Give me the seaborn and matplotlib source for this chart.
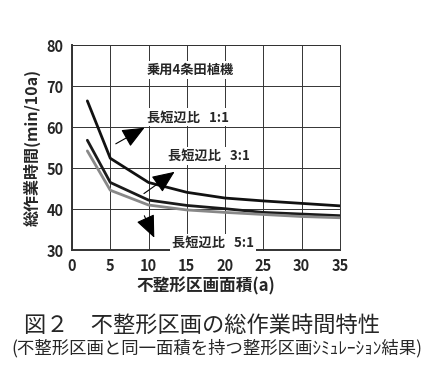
import matplotlib
matplotlib.use("Agg")
import matplotlib.pyplot as plt
import seaborn as sns
import pandas as pd

# 不整形区画面積 (a)
area = [2, 5, 10, 15, 20, 25, 30, 35]
# 総作業時間 (min/10a)
ratio_1_1 = [66.4, 52.4, 46.5, 44.1, 42.7, 42.0, 41.4, 40.8]
ratio_3_1 = [56.8, 46.5, 42.2, 40.9, 40.1, 39.2, 38.8, 38.4]
ratio_5_1 = [54.2, 44.6, 41.0, 39.8, 39.2, 38.7, 38.2, 37.9]

series_names = ["1:1", "3:1", "5:1"]
series_colors = ["#111111", "#1a1a1a", "#888888"]

sns.set_style("white")
plt.rcParams["font.family"] = ["Noto Sans CJK JP", "DejaVu Sans"]

df = pd.DataFrame({
    "area": area * 3,
    "time": ratio_1_1 + ratio_3_1 + ratio_5_1,
    "ratio": [n for n in series_names for _ in area],
})

fig = plt.figure(figsize=(4.34, 3.70), dpi=100)
ax = fig.add_axes([0.166, 0.324, 0.617, 0.554])

sns.lineplot(data=df, x="area", y="time", hue="ratio", palette=series_colors,
             linewidth=2.0, legend=False, ax=ax)

ax.set_xlim(0, 35)
ax.set_ylim(30, 80)
ax.set_xticks(range(0, 36, 5))
ax.set_yticks(range(30, 81, 10))
ax.grid(True, color="#333333", linewidth=0.7)
for s in ax.spines.values():
    s.set_color("#333333")
    s.set_linewidth(0.7)
ax.spines["bottom"].set_linewidth(1.4)
ax.spines["left"].set_linewidth(1.4)
ax.tick_params(length=0, labelsize=10.5, pad=6)
for lab in ax.get_xticklabels() + ax.get_yticklabels():
    lab.set_fontweight("bold")

ax.set_xlabel("不整形区画面積(a)", fontsize=12, fontweight="bold", labelpad=2)
ax.set_ylabel("総作業時間(min/10a)", fontsize=11.5, fontweight="bold", labelpad=4)

box = dict(facecolor="white", edgecolor="none", pad=1.5)
ax.text(9.8, 73.9, "乗用4条田植機", fontsize=9.5, fontweight="bold", va="center", bbox=box)
ax.text(9.8, 62.4, "長短辺比   1:1", fontsize=9.5, fontweight="bold", va="center", bbox=box)
ax.text(12.6, 52.9, "長短辺比   3:1", fontsize=9.5, fontweight="bold", va="center", bbox=box)
ax.text(13.1, 31.7, "長短辺比   5:1", fontsize=9.5, fontweight="bold", va="center", bbox=box,
        clip_on=False, zorder=5)

arrow = dict(arrowstyle="-|>,head_length=1.4,head_width=0.6", color="black", lw=0.8)
ax.annotate("", xy=(9.8, 60.2), xytext=(5.4, 55.6), arrowprops=arrow)
ax.annotate("", xy=(13.7, 49.5), xytext=(9.1, 43.4), arrowprops=arrow)
ax.annotate("", xy=(10.9, 32.4), xytext=(9.3, 39.0), arrowprops=arrow)

fig.text(0.465, 0.122, "図２　不整形区画の総作業時間特性", fontsize=16,
         ha="center", va="center")
fig.text(0.5, 0.06, "(不整形区画と同一面積を持つ整形区画ｼﾐｭﾚｰｼｮﾝ結果)", fontsize=12.5,
         ha="center", va="center")

fig.savefig("out.png", dpi=100)
